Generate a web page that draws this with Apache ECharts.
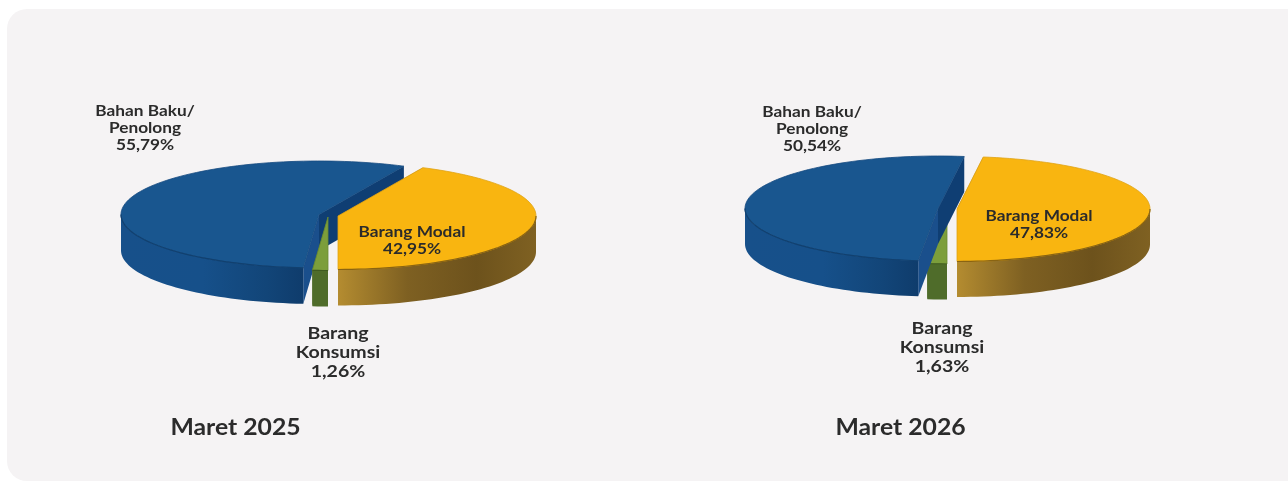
<!DOCTYPE html>
<html>
<head>
<meta charset="utf-8">
<style>
html, body { margin: 0; padding: 0; background: #fff; }
#main { width: 1288px; height: 481px; }
</style>
<script src="https://cdn.jsdelivr.net/npm/echarts@6/dist/echarts.min.js"></script>
</head>
<body>
<div id="main"></div>
<script>
// share of imports by kind of goods, in percent
var categories = ['Barang Modal', 'Bahan Baku/\nPenolong', 'Barang\nKonsumsi'];
var periods = ['Maret 2025', 'Maret 2026'];
var values2025 = [42.95, 55.79, 1.26];
var values2026 = [47.83, 50.54, 1.63];

var TEXT = '#2b2b2b';
var FONT = 'Lato';
var STRETCH = 1.15; // the original lettering is wider than plain Lato

// where each pie sits. each slice is pulled apart so it has its own centre
var layouts = [
    {
        values: values2025,
        a: 198, b: 53.5, depth: 36,
        order: [1, 2, 0],
        centers: [[338, 216], [319, 214.5], [328, 217]],
        labels: [[412, 241, 15], [145, 128, 15], [338, 353, 17]],
        title: [235.5, 428]
    },
    {
        values: values2026,
        a: 193, b: 52.5, depth: 35.5,
        order: [2, 1, 0],
        centers: [[957, 209], [938, 208.5], [947, 211.5]],
        labels: [[1039, 225, 15], [812, 129, 15], [942, 348, 17]],
        title: [900.5, 428]
    }
];

function hgrad(stops) {
    return new echarts.graphic.LinearGradient(0, 0, 1, 0, stops.map(function (c) {
        return {offset: c[0], color: c[1]};
    }));
}

// top, wall, face seen at the start of the slice, face seen at its end
var sliceStyles = [
    {
        top: '#f9b510', edge: '#dfa315', rimLine: '#8a6412',
        wall: hgrad([[0, '#b48c30'], [0.35, '#7e6022'], [0.7, '#6d521c'], [1, '#7f6122']]),
        faceStart: '#7e6022', faceEnd: '#7e6022'
    },
    {
        top: '#19568f', edge: '#154a80', rimLine: '#11406f',
        wall: hgrad([[0, '#17508a'], [0.45, '#16508a'], [0.8, '#124578'], [1, '#0f3c6c']]),
        faceStart: '#0f3e73', faceEnd: '#1a4f8c'
    },
    {
        top: '#7c9e3b', edge: '#6a8a32', rimLine: '#3f5a20',
        wall: '#4f6c2a',
        faceStart: '#4f6c2a', faceEnd: '#4f6c2a'
    }
];

function startAngles(values) {
    var out = [];
    var sum = 0;
    values.forEach(function (v) {
        out.push(-90 + sum * 3.6);
        sum += v;
    });
    return out;
}

function rim(c, lay, t, dy) {
    var r = t * Math.PI / 180;
    return [c[0] + lay.a * Math.cos(r), c[1] - lay.b * Math.sin(r) + (dy || 0)];
}

function arcPoints(c, lay, from, to, dy) {
    var pts = [];
    var n = Math.max(2, Math.ceil((to - from) / 2));
    for (var i = 0; i <= n; i++) {
        pts.push(rim(c, lay, from + (to - from) * i / n, dy));
    }
    return pts;
}

function poly(points, fill, stroke) {
    return {
        type: 'polygon',
        shape: {points: points},
        style: {fill: fill, stroke: stroke || null, lineWidth: stroke ? 0.8 : 0}
    };
}

function stretchedText(x, y, text, size, stretch) {
    return {
        type: 'text',
        z2: 100,
        x: x,
        y: y,
        scaleX: stretch,
        style: {
            x: 0,
            y: 0,
            text: text,
            fill: TEXT,
            font: 'bold ' + size + 'px ' + FONT,
            lineHeight: Math.round(size * 1.14),
            align: 'center',
            verticalAlign: 'middle'
        }
    };
}

function makeRender(lay) {
    var starts = startAngles(lay.values);
    return function (params, api) {
        var idx = api.value(0);
        var from = starts[idx];
        var to = from + api.value(1) * 3.6;
        var c = lay.centers[idx];
        var st = sliceStyles[idx];
        var low = [c[0], c[1] + lay.depth];
        var kids = [];

        // the two cut faces
        var ps = rim(c, lay, from);
        kids.push(poly([c, ps, [ps[0], ps[1] + lay.depth], low], st.faceStart));
        var pe = rim(c, lay, to);
        kids.push(poly([c, pe, [pe[0], pe[1] + lay.depth], low], st.faceEnd));

        // outer wall: only the front half of the rim can be seen
        var lines = [];
        var ranges = [[-180, 0], [180, 360]];
        ranges.forEach(function (r) {
            var a0 = Math.max(from, r[0]);
            var a1 = Math.min(to, r[1]);
            if (a1 > a0) {
                var upper = arcPoints(c, lay, a0, a1, 0);
                var lower = arcPoints(c, lay, a0, a1, lay.depth).reverse();
                kids.push(poly(upper.concat(lower), st.wall));
                lines.push(upper);
            }
        });

        // top
        kids.push(poly([c].concat(arcPoints(c, lay, from, to, 0)), st.top, st.edge));

        // dark seam where the top meets the wall
        lines.forEach(function (pts) {
            kids.push({
                type: 'polyline',
                shape: {points: pts},
                style: {fill: null, stroke: st.rimLine, lineWidth: 1.2}
            });
        });

        var lab = lay.labels[idx];
        var pct = api.value(1).toFixed(2).replace('.', ',') + '%';
        kids.push(stretchedText(lab[0], lab[1], categories[idx] + '\n' + pct, lab[2], STRETCH));
        return {type: 'group', children: kids};
    };
}

var myChart = echarts.init(document.getElementById('main'));
var graphics = [
    {
        type: 'rect',
        z: -10,
        shape: {x: 7, y: 9, width: 1290, height: 472, r: [20, 0, 0, 20]},
        style: {fill: '#f5f3f4'}
    }
];
layouts.forEach(function (lay, i) {
    graphics.push(stretchedText(lay.title[0], lay.title[1], periods[i], 22, 1.125));
});

var option = {
    animation: false,
    backgroundColor: '#fff',
    graphic: graphics,
    series: layouts.map(function (lay) {
        return {
            type: 'custom',
            coordinateSystem: 'none',
            silent: true,
            renderItem: makeRender(lay),
            encode: {},
            data: lay.order.map(function (i) {
                return [i, lay.values[i]];
            })
        };
    })
};
myChart.setOption(option);
</script>
</body>
</html>
